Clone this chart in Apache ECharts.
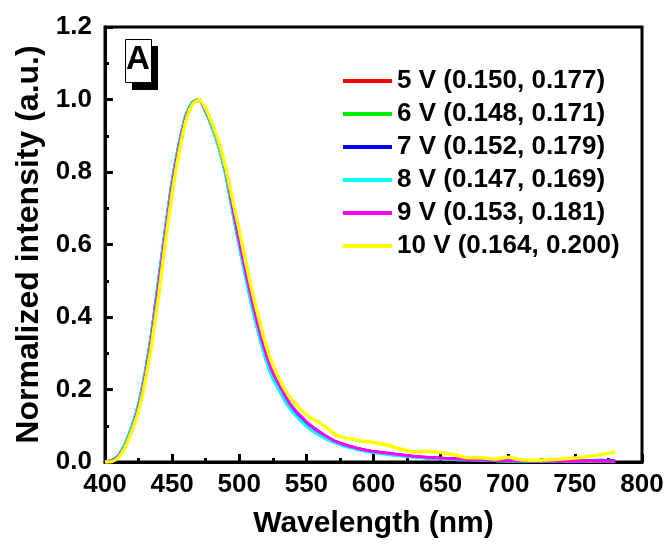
<!DOCTYPE html>
<html>
<head>
<meta charset="utf-8">
<script src="https://cdn.jsdelivr.net/npm/echarts@6/dist/echarts.min.js"></script>
<style>
html,body{margin:0;padding:0;background:#fff;}
#chart{width:670px;height:544px;}
</style>
</head>
<body>
<div id="chart"></div>
<script>
// Wavelength (nm) sample points
const wavelengths = [400,405,410,415,420,425,430,435,440,445,450,455,460,465,470,475,480,485,490,495,500,505,510,515,520,525,530,535,540,545,550,555,560,565,570,575,580,585,590,595,600,
  610,620,630,640,650,660,670,680,690,700,710,720,730,740,750,760,770,780];

const seriesNames = ["5 V (0.150, 0.177)","6 V (0.148, 0.171)","7 V (0.152, 0.179)","8 V (0.147, 0.169)","9 V (0.153, 0.181)","10 V (0.164, 0.200)"];
const seriesColors = ["#ff0000","#00ee00","#0000ff","#00ffff","#ff00ff","#ffff00"];

const v5 = [0.000,0.004,0.017,0.048,0.095,0.157,0.246,0.360,0.500,0.640,0.770,0.872,0.952,0.991,1.000,0.968,0.924,0.870,0.796,0.697,0.602,0.512,0.428,0.353,0.288,0.237,0.202,0.168,0.142,0.122,0.104,0.089,0.077,0.067,0.058,0.051,0.045,0.040,0.035,0.031,0.028,
  0.023,0.019,0.015,0.012,0.010,0.008,0.006,0.005,0.004,0.004,0.003,0.003,0.002,0.002,0.002,0.002,0.003,0.003];
const v6 = [0.000,0.004,0.018,0.050,0.097,0.159,0.249,0.364,0.504,0.644,0.774,0.874,0.954,0.992,1.000,0.966,0.921,0.866,0.791,0.692,0.597,0.507,0.422,0.347,0.282,0.232,0.198,0.164,0.139,0.119,0.101,0.087,0.075,0.064,0.056,0.049,0.043,0.038,0.034,0.030,0.027,
  0.022,0.018,0.014,0.011,0.009,0.007,0.006,0.005,0.004,0.003,0.003,0.002,0.002,0.002,0.002,0.002,0.003,0.002];
const v7 = [0.000,0.004,0.017,0.048,0.095,0.156,0.245,0.359,0.499,0.639,0.769,0.871,0.951,0.990,1.000,0.969,0.925,0.871,0.798,0.699,0.604,0.514,0.430,0.355,0.290,0.239,0.204,0.170,0.144,0.124,0.105,0.090,0.078,0.068,0.059,0.052,0.046,0.040,0.036,0.032,0.028,
  0.023,0.019,0.015,0.012,0.010,0.008,0.006,0.005,0.004,0.004,0.003,0.003,0.002,0.002,0.002,0.004,0.005,0.003];
const v8 = [0.000,0.004,0.018,0.050,0.098,0.160,0.250,0.365,0.505,0.645,0.775,0.875,0.955,0.992,0.998,0.965,0.920,0.865,0.790,0.690,0.595,0.505,0.420,0.345,0.280,0.230,0.196,0.162,0.137,0.117,0.099,0.085,0.073,0.063,0.055,0.048,0.042,0.037,0.033,0.029,0.026,
  0.021,0.017,0.014,0.011,0.009,0.007,0.006,0.005,0.004,0.003,0.003,0.002,0.002,0.002,0.002,0.003,0.003,0.002];
const v9 = [0.000,0.003,0.015,0.044,0.090,0.150,0.238,0.352,0.490,0.630,0.762,0.866,0.948,0.988,1.000,0.970,0.928,0.875,0.803,0.705,0.611,0.522,0.438,0.363,0.298,0.247,0.212,0.177,0.150,0.130,0.111,0.096,0.083,0.071,0.060,0.052,0.046,0.041,0.036,0.032,0.029,
  0.025,0.020,0.016,0.013,0.011,0.009,0.007,0.006,0.005,0.004,0.004,0.003,0.003,0.002,0.002,0.003,0.003,0.002];
const v10 = [0.000,0.001,0.012,0.040,0.085,0.140,0.223,0.330,0.460,0.605,0.740,0.850,0.937,0.985,1.000,0.975,0.932,0.880,0.810,0.725,0.640,0.550,0.465,0.390,0.322,0.268,0.228,0.194,0.168,0.148,0.130,0.118,0.108,0.095,0.080,0.070,0.066,0.062,0.058,0.056,0.054,
  0.047,0.036,0.028,0.030,0.026,0.020,0.012,0.012,0.008,0.013,0.006,0.005,0.006,0.008,0.011,0.015,0.021,0.028];

const allValues = [v5, v6, v7, v8, v9, v10];
const xTicks = [400,450,500,550,600,650,700,750,800];
const yTicks = [0.0,0.2,0.4,0.6,0.8,1.0,1.2];

const FONT = "'Liberation Sans', Arial, sans-serif";
const chart = echarts.init(document.getElementById('chart'), null, {renderer:'canvas'});

const series = allValues.map((vals, i) => ({
  name: seriesNames[i],
  type: 'line',
  data: wavelengths.map((w, j) => [w, vals[j]]),
  showSymbol: false,
  smooth: 0.2,
  lineStyle: { color: seriesColors[i], width: i === 5 ? 3.5 : 3 },
  itemStyle: { color: seriesColors[i] },
  z: 2 + i,
  animation: false
}));

chart.setOption({
  backgroundColor: '#ffffff',
  animation: false,
  grid: { left: 105, right: 28, top: 27, bottom: 80, show: true, borderColor: '#000', borderWidth: 3, backgroundColor: 'transparent' },
  legend: {
    orient: 'vertical',
    left: 343, top: 68, padding: 0,
    itemWidth: 49, itemHeight: 4, itemGap: 7,
    icon: 'rect',
    data: seriesNames,
    textStyle: { fontFamily: FONT, fontSize: 26, fontWeight: 'bold', color: '#000' },
    selectedMode: false
  },
  xAxis: {
    type: 'value', min: xTicks[0], max: xTicks[xTicks.length-1], interval: 50,
    name: 'Wavelength (nm)', nameLocation: 'middle', nameGap: 47,
    nameTextStyle: { fontFamily: FONT, fontSize: 30, fontWeight: 'bold', color: '#000' },
    axisLine: { show: true, onZero: false, lineStyle: { color: '#000', width: 3 } },
    axisTick: { show: true, inside: true, length: 8, lineStyle: { color: '#000', width: 3 } },
    minorTick: { show: true, splitNumber: 2, length: 4, lineStyle: { color: '#000', width: 3 } },
    axisLabel: { margin: 10, fontFamily: FONT, fontSize: 26, fontWeight: 'bold', color: '#000' },
    splitLine: { show: false }
  },
  yAxis: {
    type: 'value', min: yTicks[0], max: yTicks[yTicks.length-1], interval: 0.2,
    name: 'Normalized intensity (a.u.)', nameLocation: 'middle', nameGap: 52,
    nameTextStyle: { fontFamily: FONT, fontSize: 32, fontWeight: 'bold', color: '#000' },
    axisLine: { show: true, onZero: false, lineStyle: { color: '#000', width: 3 } },
    axisTick: { show: true, inside: true, length: 8, lineStyle: { color: '#000', width: 3 } },
    minorTick: { show: true, splitNumber: 2, length: 4, lineStyle: { color: '#000', width: 3 } },
    axisLabel: { margin: 13, fontFamily: FONT, fontSize: 26, fontWeight: 'bold', color: '#000', formatter: v => v.toFixed(1) },
    splitLine: { show: false }
  },
  graphic: [
    { type: 'rect', left: 132, top: 46, shape: { width: 26, height: 44 }, style: { fill: '#000' }, z: 100 },
    { type: 'rect', left: 125, top: 39, shape: { width: 26, height: 43 }, style: { fill: '#fff', stroke: '#000', lineWidth: 1 }, z: 101 },
    { type: 'text', left: 126, top: 43, style: { text: 'A', fontFamily: FONT, fontSize: 33, fontWeight: 'bold', fill: '#000' }, z: 102 }
  ],
  series: series
});
</script>
</body>
</html>
